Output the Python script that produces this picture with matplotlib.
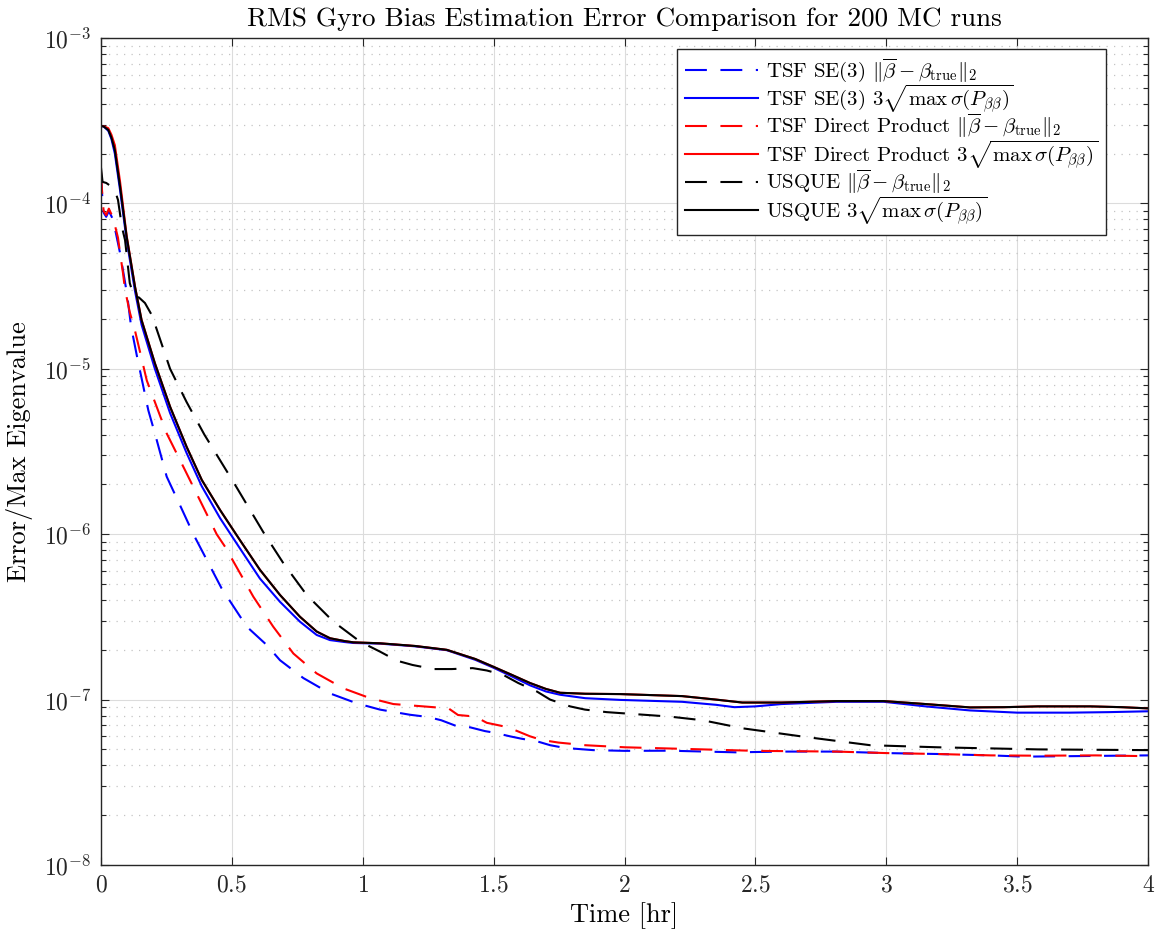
import math
import matplotlib
matplotlib.use("Agg")
import matplotlib.pyplot as plt
from matplotlib.ticker import FixedLocator, FuncFormatter, LogLocator, NullFormatter

plt.rcParams['font.family'] = 'cmr10'
plt.rcParams['mathtext.fontset'] = 'cm'
plt.rcParams['axes.formatter.use_mathtext'] = True
plt.rcParams['axes.unicode_minus'] = False

# time axis [hr] and values
t_se3_err = [0, 0.004, 0.01, 0.02, 0.03, 0.046, 0.073, 0.1, 0.115, 0.138, 0.181, 0.206, 0.251,
             0.3, 0.353, 0.461, 0.557, 0.633, 0.684, 0.773, 0.875, 0.977, 1.066, 1.18, 1.25,
             1.3, 1.36, 1.41, 1.467, 1.505, 1.562, 1.607, 1.665, 1.716, 1.773, 1.88, 2.0, 2.171,
             2.427, 2.6, 2.81, 3.0, 3.195, 3.4, 3.527, 3.7, 4.0]
se3_err = [1.5e-4, 1.15e-4, 8.8e-5, 8.3e-5, 9.0e-5, 8.0e-5, 5.0e-5, 2.8e-5, 1.8e-5, 1.18e-5,
           5.6e-6, 4.07e-6, 2.23e-6, 1.52e-6, 1.0e-6, 4.7e-7, 2.76e-7, 2.14e-7, 1.73e-7, 1.35e-7,
           1.09e-7, 9.5e-8, 8.7e-8, 8.1e-8, 7.85e-8, 7.5e-8, 6.9e-8, 6.8e-8, 6.45e-8, 6.3e-8,
           6.0e-8, 5.8e-8, 5.6e-8, 5.3e-8, 5.1e-8, 4.95e-8, 4.9e-8, 4.91e-8, 4.8e-8, 4.85e-8,
           4.85e-8, 4.75e-8, 4.69e-8, 4.6e-8, 4.52e-8, 4.55e-8, 4.6e-8]

t_se3_sig = [0, 0.01, 0.028, 0.04, 0.053, 0.073, 0.098, 0.13, 0.155, 0.206, 0.264, 0.327, 0.385,
             0.455, 0.531, 0.607, 0.684, 0.76, 0.824, 0.875, 0.93, 0.964, 1.066, 1.2, 1.321,
             1.43, 1.499, 1.57, 1.639, 1.7, 1.754, 1.85, 1.983, 2.22, 2.35, 2.42, 2.5, 2.6, 2.81,
             2.99, 3.15, 3.32, 3.5, 3.7, 3.85, 4.0]
se3_sig = [2.94e-4, 2.92e-4, 2.75e-4, 2.45e-4, 2.0e-4, 1.2e-4, 6.0e-5, 2.95e-5, 1.85e-5, 1.0e-5,
           5.4e-6, 3.1e-6, 1.95e-6, 1.25e-6, 8.2e-7, 5.4e-7, 3.9e-7, 2.96e-7, 2.46e-7, 2.29e-7,
           2.23e-7, 2.2e-7, 2.18e-7, 2.1e-7, 1.99e-7, 1.74e-7, 1.56e-7, 1.38e-7, 1.22e-7, 1.12e-7,
           1.07e-7, 1.02e-7, 9.96e-8, 9.7e-8, 9.3e-8, 9.0e-8, 9.1e-8, 9.4e-8, 9.7e-8, 9.7e-8,
           9.1e-8, 8.6e-8, 8.34e-8, 8.34e-8, 8.4e-8, 8.5e-8]

t_dp_err = [0, 0.004, 0.01, 0.02, 0.03, 0.046, 0.065, 0.073, 0.084, 0.092, 0.11, 0.13, 0.175,
            0.251, 0.321, 0.38, 0.442, 0.474, 0.582, 0.658, 0.735, 0.824, 0.926, 1.028, 1.117,
            1.193, 1.27, 1.33, 1.364, 1.429, 1.474, 1.537, 1.575, 1.639, 1.684, 1.747, 1.85,
            2.0, 2.3, 2.5, 2.811, 3.0, 3.195, 3.4, 3.579, 3.8, 4.0]
dp_err = [1.55e-4, 1.2e-4, 9.0e-5, 8.5e-5, 9.3e-5, 8.2e-5, 6.2e-5, 5.0e-5, 3.8e-5, 3.0e-5,
          2.2e-5, 1.7e-5, 8.5e-6, 4.07e-6, 2.44e-6, 1.58e-6, 1.0e-6, 8.4e-7, 4.19e-7, 2.76e-7,
          1.9e-7, 1.44e-7, 1.17e-7, 1.02e-7, 9.4e-8, 9.2e-8, 9.0e-8, 8.8e-8, 8.07e-8, 7.9e-8,
          7.24e-8, 6.9e-8, 6.6e-8, 6.0e-8, 5.7e-8, 5.5e-8, 5.3e-8, 5.15e-8, 5.0e-8, 4.9e-8,
          4.85e-8, 4.75e-8, 4.69e-8, 4.6e-8, 4.58e-8, 4.6e-8, 4.55e-8]

t_sig = [0, 0.01, 0.028, 0.04, 0.053, 0.073, 0.098, 0.13, 0.155, 0.206, 0.264, 0.327, 0.385,
         0.455, 0.531, 0.607, 0.684, 0.76, 0.824, 0.875, 0.93, 0.964, 1.066, 1.2, 1.321, 1.43,
         1.499, 1.57, 1.639, 1.7, 1.754, 1.85, 1.983, 2.22, 2.35, 2.45, 2.6, 2.81, 2.99, 3.15,
         3.32, 3.45, 3.58, 3.78, 3.9, 4.0]
dp_sig = [2.94e-4, 2.93e-4, 2.85e-4, 2.6e-4, 2.25e-4, 1.35e-4, 6.4e-5, 3.15e-5, 1.98e-5, 1.08e-5,
          5.9e-6, 3.38e-6, 2.13e-6, 1.4e-6, 9.2e-7, 6.1e-7, 4.29e-7, 3.17e-7, 2.58e-7, 2.35e-7,
          2.26e-7, 2.22e-7, 2.19e-7, 2.11e-7, 2.0e-7, 1.76e-7, 1.58e-7, 1.41e-7, 1.26e-7,
          1.16e-7, 1.1e-7, 1.085e-7, 1.08e-7, 1.05e-7, 1.0e-7, 9.6e-8, 9.6e-8, 9.8e-8, 9.8e-8,
          9.4e-8, 8.97e-8, 9.0e-8, 9.1e-8, 9.1e-8, 9.0e-8, 8.85e-8]
usque_sig = [2.94e-4, 2.92e-4, 2.78e-4, 2.5e-4, 2.1e-4, 1.26e-4, 6.3e-5, 3.13e-5, 1.97e-5,
             1.08e-5, 5.9e-6, 3.38e-6, 2.13e-6, 1.4e-6, 9.2e-7, 6.1e-7, 4.29e-7, 3.17e-7,
             2.58e-7, 2.35e-7, 2.26e-7, 2.22e-7, 2.19e-7, 2.11e-7, 2.0e-7, 1.76e-7, 1.58e-7,
             1.41e-7, 1.26e-7, 1.16e-7, 1.1e-7, 1.085e-7, 1.08e-7, 1.05e-7, 1.0e-7, 9.6e-8,
             9.6e-8, 9.8e-8, 9.8e-8, 9.4e-8, 8.97e-8, 9.0e-8, 9.1e-8, 9.1e-8, 9.0e-8, 8.85e-8]

t_usque_err = [0, 0.006, 0.02, 0.035, 0.053, 0.065, 0.08, 0.092, 0.1, 0.11, 0.125, 0.145, 0.168,
               0.195, 0.264, 0.327, 0.395, 0.474, 0.505, 0.62, 0.697, 0.786, 0.888, 0.99, 1.066,
               1.13, 1.19, 1.27, 1.34, 1.42, 1.474, 1.537, 1.594, 1.665, 1.716, 1.792, 1.849,
               1.932, 2.171, 2.299, 2.453, 2.683, 2.939, 3.195, 3.579, 4.0]
usque_err = [1.65e-4, 1.35e-4, 1.33e-4, 1.28e-4, 1.2e-4, 1.05e-4, 7.2e-5, 6.0e-5, 4.6e-5, 3.3e-5,
             2.75e-5, 2.7e-5, 2.5e-5, 2.1e-5, 1.0e-5, 6.3e-6, 4.0e-6, 2.5e-6, 2.08e-6, 1.03e-6,
             6.67e-7, 4.29e-7, 2.96e-7, 2.24e-7, 1.95e-7, 1.72e-7, 1.62e-7, 1.53e-7, 1.53e-7,
             1.55e-7, 1.5e-7, 1.41e-7, 1.26e-7, 1.12e-7, 1.0e-7, 9.1e-8, 8.7e-8, 8.4e-8, 7.9e-8,
             7.5e-8, 6.7e-8, 5.97e-8, 5.3e-8, 5.15e-8, 5.0e-8, 4.95e-8]

err_lbl = r'$\|\overline{\beta} - \beta_{\mathrm{true}}\|_2$'
sig_lbl = r'$3\sqrt{\max\,\sigma(P_{\beta\beta})}$'

fig = plt.figure(figsize=(11.62, 9.39), dpi=100)
ax = fig.add_axes([0.0869, 0.0788, 0.9011, 0.8807])

dash = (0, (10.5, 6.5))
lw = 1.5
ax.plot(t_se3_err, se3_err, color='b', ls=dash, lw=lw, label='TSF SE(3) ' + err_lbl)
ax.plot(t_se3_sig, se3_sig, color='b', lw=lw, label='TSF SE(3) ' + sig_lbl)
ax.plot(t_dp_err, dp_err, color='r', ls=dash, lw=lw, label='TSF Direct Product ' + err_lbl)
ax.plot(t_sig, dp_sig, color='r', lw=lw, label='TSF Direct Product ' + sig_lbl)
ax.plot(t_usque_err, usque_err, color='k', ls=dash, lw=lw, label='USQUE ' + err_lbl)
ax.plot(t_sig, usque_sig, color='k', lw=lw, label='USQUE ' + sig_lbl)

ax.set_yscale('log')
ax.set_xlim(0, 4)
ax.set_ylim(1e-8, 1e-3)

ax.xaxis.set_major_locator(FixedLocator([0, 0.5, 1, 1.5, 2, 2.5, 3, 3.5, 4]))
ax.xaxis.set_major_formatter(FuncFormatter(lambda v, p: r'$%g$' % v))
ax.yaxis.set_major_locator(LogLocator(base=10, numticks=10))
ax.yaxis.set_major_formatter(FuncFormatter(lambda v, p: r'$10^{%d}$' % round(math.log10(v))))
ax.yaxis.set_minor_locator(LogLocator(base=10, subs=range(2, 10), numticks=20))
ax.yaxis.set_minor_formatter(NullFormatter())

ax.tick_params(which='both', direction='in', top=True, right=True, colors='#262626', labelsize=17)
ax.tick_params(which='major', length=6, width=0.8, pad=7)
ax.tick_params(which='minor', length=3.5, width=0.8)
for s in ax.spines.values():
    s.set_color('#262626')
    s.set_linewidth(1.0)

ax.grid(which='major', color='#dcdcdc', lw=0.8)
ax.grid(which='minor', axis='y', color='#c4c4c4', lw=0.9, ls=(0, (1, 5)))
ax.set_axisbelow(True)

ax.set_title('RMS Gyro Bias Estimation Error Comparison for 200 MC runs', fontsize=19.5, pad=9)
ax.set_xlabel('Time [hr]', fontsize=19, labelpad=4)
ax.set_ylabel('Error/Max Eigenvalue', fontsize=19, labelpad=8)

leg = ax.legend(loc='upper right', bbox_to_anchor=(0.96, 0.987), borderaxespad=0, fontsize=15,
                handlelength=3.5, handletextpad=0.38, labelspacing=-0.12, borderpad=0.4,
                fancybox=False, framealpha=1, edgecolor='#262626')
leg.get_frame().set_linewidth(1.0)

fig.savefig('out.png', dpi=100)
